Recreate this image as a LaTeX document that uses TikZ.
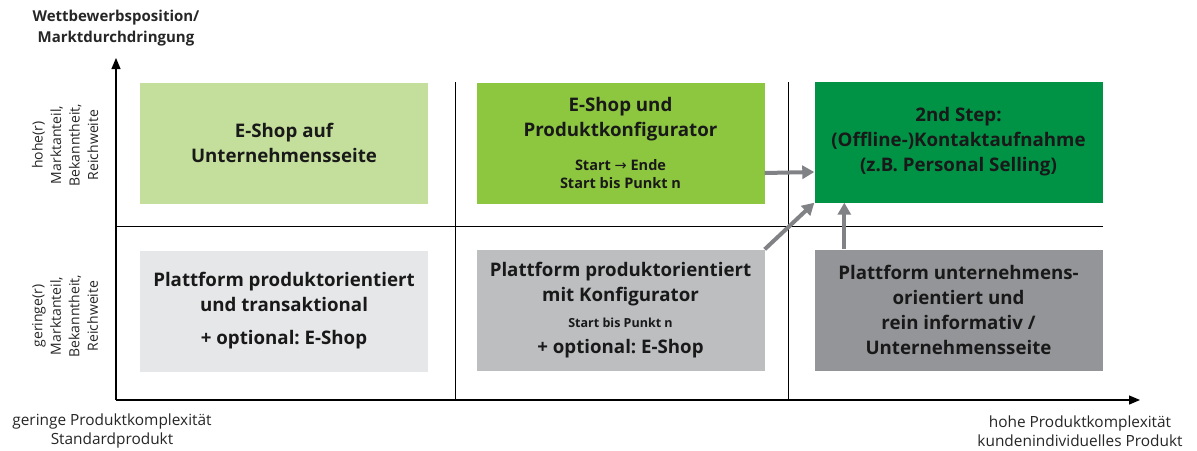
\documentclass[tikz,border=0pt]{standalone}
\usepackage{fontspec}
\setmainfont{Open Sans}
\newfontfamily\arrowfont{DejaVu Sans}
\usetikzlibrary{arrows.meta}
\frenchspacing

\definecolor{shopLight}{HTML}{C4DF9B}
\definecolor{shopGreen}{HTML}{8DC63F}
\definecolor{stepGreen}{HTML}{009245}
\definecolor{platLight}{HTML}{E6E7E8}
\definecolor{platMid}{HTML}{BCBEC0}
\definecolor{platDark}{HTML}{939598}
\definecolor{linkGray}{HTML}{808285}

\newcommand\smalltxt{\fontsize{14.5}{18}\selectfont}
\newcommand\tinytxt{\fontsize{12.5}{18}\selectfont}

\begin{document}
\begin{tikzpicture}[
    x = 1pt, y = -1pt,
    field/.style = {minimum width = 288pt, minimum height = 121pt,
                    inner sep = 0pt, align = center,
                    font = \fontsize{18.7}{25}\selectfont\bfseries, text = black!90},
    axis/.style = {line width = 1.2pt, -{Triangle[length = 11pt, width = 9pt]}},
    grid/.style = {line width = 1pt},
    link/.style = {line width = 4pt, draw = linkGray,
                   -{Triangle[length = 12pt, width = 13pt]}},
    caption/.style = {align = center, font = \fontsize{15.4}{19.5}\selectfont, text = black!85},
    side/.style = {caption, rotate = 90, font = \fontsize{14}{18.5}\selectfont}]

\useasboundingbox (0,0) rectangle (1197,450);

% axes and grid
\coordinate (O) at (116,400);
\coordinate (ytop) at (116,58);
\coordinate (xend) at (1140,400);
\draw[grid] (116,226) -- (1103,226);
\draw[grid] (455,82) -- (455,400);
\draw[grid] (788,82) -- (788,400);
\draw[axis] (O) -- (ytop);
\draw[axis] (O) -- (xend);

% fields
\node[field, fill = shopLight] (shop) at (284,143) {E-Shop auf\\Unternehmensseite};
\node[field, fill = shopGreen] (config) at (620.5,143)
    {E-Shop und\\Produktkonfigurator\\[9pt]
     \smalltxt Start {\arrowfont\mdseries →} Ende\\[-6.5pt]
     \smalltxt Start bis Punkt n};
\node[field, fill = stepGreen] (step) at (958.5,142)
    {2nd Step:\\(Offline-)Kontaktaufnahme\\(z.B. Personal Selling)};
\node[field, fill = platLight] (transakt) at (284,311)
    {Plattform produktorientiert\\und transaktional\\[8pt]+ optional: E-Shop};
\node[field, fill = platMid] (produkt) at (620.5,310)
    {Plattform produktorientiert\\mit Konfigurator\\[1pt]
     \tinytxt Start bis Punkt n\\[1pt]+ optional: E-Shop};
\node[field, fill = platDark] (info) at (958.5,310)
    {Plattform unternehmens-\\orientiert und\\rein informativ /\\Unternehmensseite};

% links
\draw[link] ([yshift = -30pt]config.east) -- ([yshift = -30pt]step.west);
\draw[link] (produkt.north east) -- (step.south west);
\draw[link] ([xshift = 30pt]info.north west) -- ([xshift = 30pt]step.south west);

% labels
\node[caption, font = \fontsize{15}{21}\selectfont\bfseries] (ytitle) at (116,28)
    {Wettbewerbsposition/\\Marktdurchdringung};
\node[side] (yhigh) at (65,145) {hohe(r)\\Marktanteil,\\Bekanntheit,\\Reichweite};
\node[side] (ylow) at (65,316) {geringe(r)\\Marktanteil,\\Bekanntheit,\\Reichweite};
\node[caption] (xlow) at (112,431) {geringe Produktkomplexität\\Standardprodukt};
\node[caption] (xhigh) at (1080,431) {hohe Produktkomplexität\\kundenindividuelles Produkt};
\end{tikzpicture}
\end{document}
